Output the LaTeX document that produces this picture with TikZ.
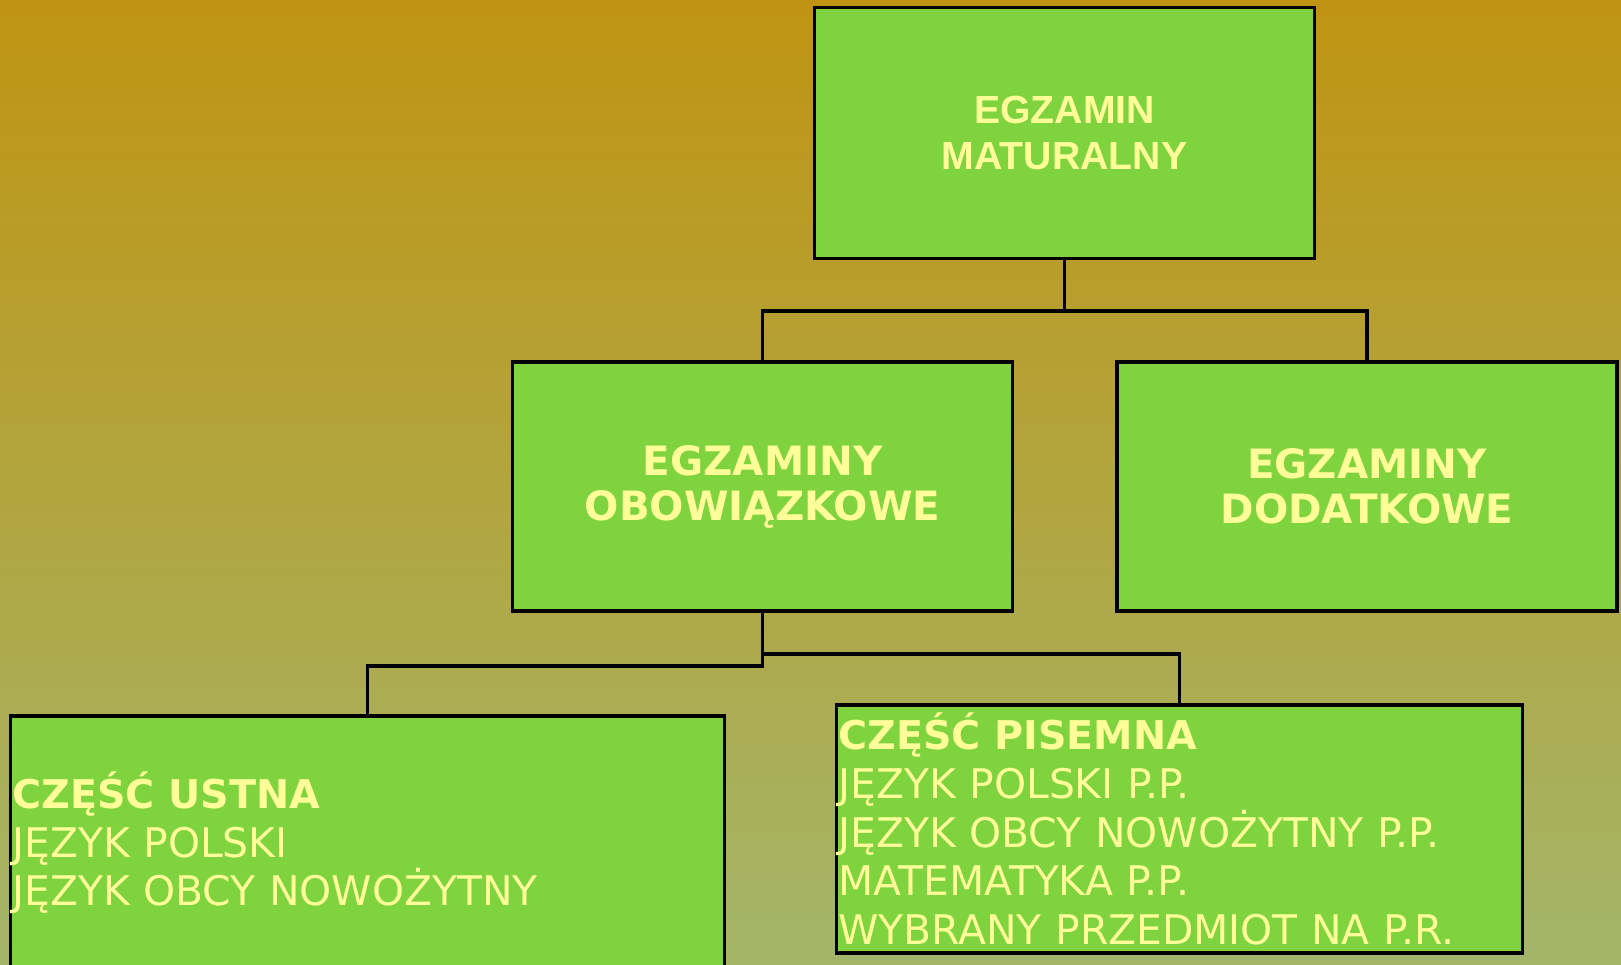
\documentclass[tikz,border=0pt]{standalone}
\usepackage{fontspec}
\setmainfont{DejaVu Sans}
\newfontfamily\arialfont{Liberation Sans}
\usepackage{xcolor}
\usepackage{tikz}

\definecolor{bgtop}{RGB}{192,148,18}
\definecolor{bgbottom}{RGB}{164,181,106}
\definecolor{boxgreen}{RGB}{126,211,62}
\definecolor{textyellow}{RGB}{255,255,153}

\begin{document}
\begin{tikzpicture}[x=0.5pt, y=-0.5pt,
    box/.style={draw=black, line width=1.8pt, fill=boxgreen, text=textyellow, inner sep=0pt},
    headbox/.style={box, minimum width=250pt, minimum height=124.5pt, align=center,
        font=\bfseries\fontsize{20.2}{22.5}\selectfont},
    listbox/.style={box, minimum height=124.5pt, align=left, inner xsep=1pt,
        font=\fontsize{20.4}{24.3}\selectfont},
    link/.style={line width=1.8pt}]
    \useasboundingbox (0,0) rectangle (1621,964);
    \shade[top color=bgtop, bottom color=bgbottom] (0,0) rectangle (1621,964);

    \node[headbox, minimum height=125.5pt, font=\arialfont\bfseries\fontsize{19.6}{23.3}\selectfont]
        (matura) at (1064.5,133) {EGZAMIN\\MATURALNY};
    \node[headbox] (oblig) at (762.5,486.5) {EGZAMINY\\OBOWIĄZKOWE};
    \node[headbox] (extra) at (1367,486.5) {EGZAMINY\\DODATKOWE};

    \node[listbox, minimum width=357pt, text width=355pt, minimum height=127pt] (ustna) at (367.5,843)
        {\textbf{\fontsize{19.8}{24.3}\selectfont CZĘŚĆ USTNA}\\JĘZYK POLSKI\\JĘZYK OBCY NOWOŻYTNY};
    \node[listbox, minimum width=343pt, text width=341pt, minimum height=124pt] (pisemna) at (1179.5,829)
        {\textbf{\fontsize{19.8}{24.3}\selectfont CZĘŚĆ PISEMNA}\\JĘZYK POLSKI P.P.\\JĘZYK OBCY NOWOŻYTNY P.P.\\MATEMATYKA P.P.\\WYBRANY PRZEDMIOT NA P.R.};

    % polaczenia
    \draw[link] (matura.south) -- ++(0,50.5) -| (oblig.north);
    \draw[link] (matura.south) -- ++(0,50.5) -| (extra.north);
    \draw[link] (oblig.south) -- ++(0,53) -| (ustna.north);
    \draw[link] (oblig.south) -- ++(0,41) -| (pisemna.north);
\end{tikzpicture}
\end{document}
